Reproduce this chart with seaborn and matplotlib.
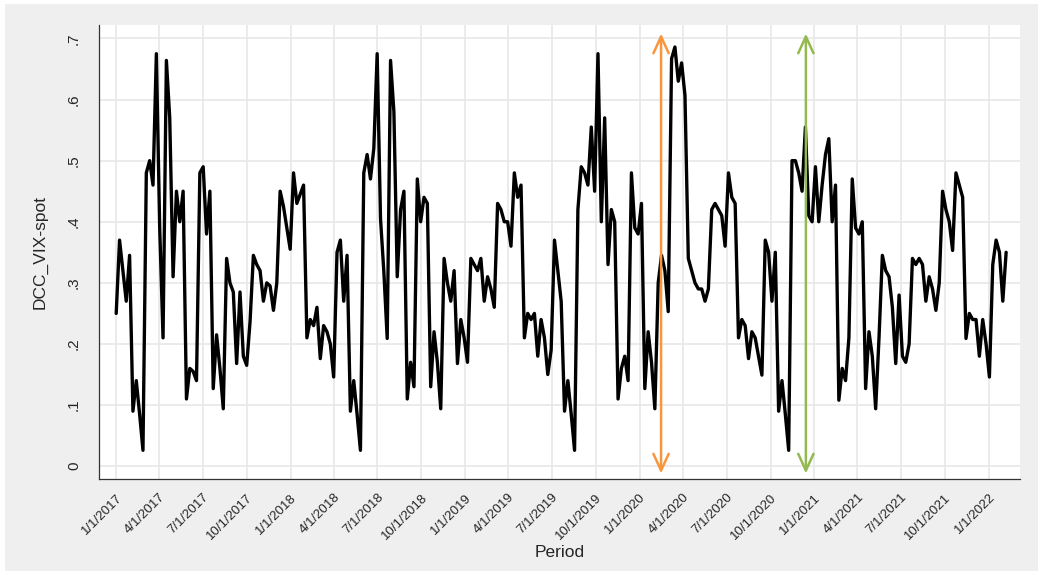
import pandas as pd
import numpy as np
import seaborn as sns
import matplotlib.pyplot as plt
from matplotlib.patches import Rectangle

# weekly DCC values, starting 1/1/2017
start_date = "2017-01-01"
vals_2017 = [0.25, 0.37, 0.32, 0.27, 0.345, 0.09, 0.14, 0.085, 0.026, 0.48,
             0.50, 0.46, 0.675, 0.39, 0.21, 0.664, 0.57, 0.31, 0.45, 0.40,
             0.45, 0.11, 0.16, 0.155, 0.14, 0.48, 0.49, 0.38, 0.45, 0.127,
             0.215, 0.16, 0.094, 0.34, 0.30, 0.285, 0.168, 0.285, 0.18, 0.165,
             0.236, 0.345, 0.33]
vals_2018 = [0.32, 0.27, 0.30, 0.295, 0.255, 0.30, 0.45, 0.425, 0.39, 0.355,
             0.48, 0.43, 0.445, 0.46, 0.21, 0.24, 0.23, 0.26, 0.176, 0.23,
             0.22, 0.20, 0.146, 0.35, 0.37, 0.27, 0.345, 0.09, 0.14, 0.085,
             0.026, 0.48, 0.51, 0.47, 0.52, 0.675, 0.405, 0.318, 0.209, 0.664,
             0.58, 0.31, 0.42, 0.45, 0.11]
vals_2019 = [0.17, 0.13, 0.47, 0.40, 0.44, 0.43, 0.13, 0.22, 0.17, 0.094,
             0.34, 0.30, 0.27, 0.32, 0.168, 0.24, 0.21, 0.17, 0.34, 0.33,
             0.32, 0.34, 0.27, 0.31, 0.29, 0.26, 0.43, 0.42, 0.40, 0.40,
             0.36, 0.48, 0.44, 0.46, 0.21, 0.25, 0.24, 0.25, 0.18, 0.24,
             0.21, 0.15, 0.19, 0.37]
vals_2020a = [0.32, 0.27, 0.09, 0.14, 0.085, 0.026, 0.42, 0.49, 0.48, 0.46,
              0.555, 0.45, 0.675, 0.40, 0.57, 0.33, 0.42, 0.40, 0.11, 0.16,
              0.18, 0.14, 0.48, 0.39, 0.38, 0.43, 0.127, 0.22, 0.17, 0.094,
              0.30, 0.345, 0.32, 0.253, 0.667, 0.686, 0.63, 0.66, 0.607, 0.34,
              0.32, 0.30, 0.29, 0.29]
vals_2020b = [0.27, 0.29, 0.42, 0.43, 0.42, 0.41, 0.36, 0.48, 0.44, 0.43,
              0.21, 0.24, 0.23, 0.176, 0.22, 0.21, 0.18, 0.149, 0.37, 0.35,
              0.27, 0.35, 0.09, 0.14, 0.085, 0.026, 0.50, 0.50, 0.48, 0.45,
              0.555, 0.41, 0.40, 0.49, 0.40, 0.46, 0.51, 0.536, 0.40, 0.46,
              0.108, 0.16, 0.14, 0.21]
vals_2021 = [0.47, 0.39, 0.38, 0.40, 0.127, 0.22, 0.18, 0.094, 0.21, 0.345,
             0.32, 0.31, 0.26, 0.168, 0.28, 0.18, 0.17, 0.20, 0.34, 0.33,
             0.34, 0.33, 0.27, 0.31, 0.29, 0.255, 0.30, 0.45, 0.42, 0.40,
             0.353, 0.48, 0.46, 0.44, 0.209, 0.25, 0.24, 0.24, 0.18, 0.24,
             0.20, 0.146, 0.33, 0.37, 0.35, 0.27, 0.35]

tick_dates = pd.date_range("2017-01-01", "2022-01-01", freq="QS")
tick_labels = [f"{d.month}/{d.day}/{d.year}" for d in tick_dates]
y_ticks = [0, 0.1, 0.2, 0.3, 0.4, 0.5, 0.6, 0.7]
y_labels = ["0", ".1", ".2", ".3", ".4", ".5", ".6", ".7"]

# event markers
orange_date = pd.Timestamp("2020-02-15")
green_date = pd.Timestamp("2020-12-14")

values = vals_2017 + vals_2018 + vals_2019 + vals_2020a + vals_2020b + vals_2021
df = pd.DataFrame({
    "Period": pd.date_range(start_date, periods=len(values), freq="7D"),
    "DCC_VIX-spot": values,
})

sns.set_style("white")
plt.rcParams["font.family"] = ["Liberation Sans", "DejaVu Sans"]

bg = "#efefef"
fig = plt.figure(figsize=(10.43, 5.75), dpi=100, facecolor="white")
fig.patches.append(Rectangle((5 / 1043, 4 / 575), 1033 / 1043, 567 / 575,
                             transform=fig.transFigure, facecolor=bg,
                             edgecolor="none", zorder=-10))
ax = fig.add_axes([99 / 1043, 1 - 479 / 575, 921 / 1043, 454 / 575])
ax.set_facecolor("white")

sns.lineplot(data=df, x="Period", y="DCC_VIX-spot", color="black",
             linewidth=2.4, ax=ax)

for d, c in [(orange_date, "#f7963e"), (green_date, "#94b950")]:
    ax.annotate("", xy=(d, -0.012), xytext=(d, 0.708),
                arrowprops=dict(arrowstyle="<->,head_length=1.2,head_width=0.55",
                                color=c, lw=1.8, shrinkA=0, shrinkB=0))

ax.set_xlim(pd.Timestamp("2016-11-26"), pd.Timestamp("2022-03-07"))
ax.set_ylim(-0.021, 0.722)
ax.set_xticks(tick_dates)
ax.set_xticklabels(tick_labels, rotation=45, ha="right", rotation_mode="anchor",
                   fontsize=9.5)
ax.set_yticks(y_ticks)
ax.set_yticklabels(y_labels, rotation=90, va="center", fontsize=11)
ax.grid(True, color="#e6e6e6", linewidth=1.1)
ax.set_axisbelow(True)
ax.tick_params(axis="x", length=6, width=0.9, color="#333333", pad=3)
ax.tick_params(axis="y", length=7, width=0.9, color="#333333", pad=6)
for s in ["top", "right"]:
    ax.spines[s].set_visible(False)
for s in ["left", "bottom"]:
    ax.spines[s].set_color("#333333")
    ax.spines[s].set_linewidth(0.9)
ax.set_xlabel("Period", fontsize=12.5, labelpad=2)
ax.set_ylabel("DCC_VIX-spot", fontsize=12.5, labelpad=14)

fig.savefig("out.png", dpi=100, facecolor=fig.get_facecolor())
